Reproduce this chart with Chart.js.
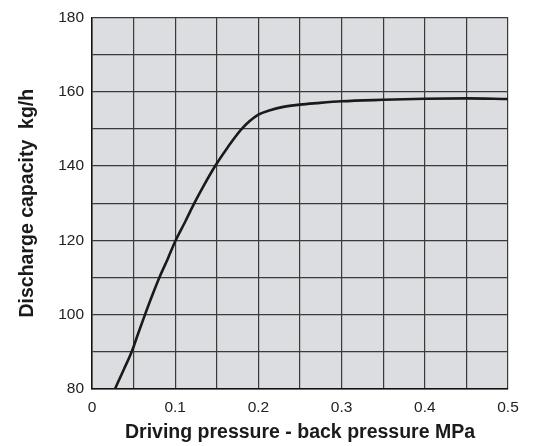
<!DOCTYPE html>
<html>
<head>
<meta charset="utf-8">
<script src="https://cdn.jsdelivr.net/npm/chart.js@4/dist/chart.umd.min.js"></script>
<style>
  html, body { margin: 0; padding: 0; background: #fff; }
  #wrap { width: 533px; height: 446px; }
</style>
</head>
<body>
<div id="wrap"><canvas id="dischargeChart"></canvas></div>
<script>
// curve
var pressure = [0.0276, 0.0377, 0.0477, 0.0556, 0.0637, 0.0721, 0.081, 0.091, 0.1006, 0.112, 0.123, 0.135, 0.148, 0.163, 0.18, 0.2, 0.214, 0.23, 0.25, 0.27, 0.3, 0.35, 0.4, 0.45, 0.5]
var capacity = [80, 85, 90, 95, 100, 105, 110, 115, 120, 125, 130, 135, 140, 145, 150, 153.8, 155.0, 155.9, 156.5, 156.9, 157.4, 157.8, 158.1, 158.2, 158.0]

// grid / tick positions
var xGrid = [0, 0.05, 0.1, 0.15, 0.2, 0.25, 0.3, 0.35, 0.4, 0.45, 0.5]
var xTickLabels = ['0', '', '0.1', '', '0.2', '', '0.3', '', '0.4', '', '0.5']
var yGrid = [80, 90, 100, 110, 120, 130, 140, 150, 160, 170, 180]
var yTickLabels = ['80', '', '100', '', '120', '', '140', '', '160', '', '180']

var xTitle = 'Driving pressure - back pressure MPa'
var yTitle = 'Discharge capacity  kg/h'

var FONT = "'Liberation Sans', Arial, Helvetica, sans-serif"

// gray plot background
var plotBg = {
       id: 'plotBg',
       beforeDraw: function (chart) {
              var a = chart.chartArea
              var ctx = chart.ctx
              ctx.save()
              ctx.fillStyle = '#dcdde0'
              ctx.fillRect(a.left, a.top, a.right - a.left, a.bottom - a.top)
              ctx.restore()
       }
}

var points = pressure.map(function (p, i) { return { x: p, y: capacity[i] } })

new Chart(document.getElementById('dischargeChart'), {
       type: 'line',
       data: {
              datasets: [{
                     data: points,
                     borderColor: '#1a1a1a',
                     borderWidth: 2.6,
                     pointRadius: 0,
                     fill: false,
                     cubicInterpolationMode: 'monotone'
              }]
       },
       options: {
              responsive: true,
              maintainAspectRatio: false,
              animation: false,
              layout: { padding: { top: 16, right: 25, left: 0, bottom: 0 } },
              plugins: {
                     legend: { display: false },
                     tooltip: { enabled: false }
              },
              scales: {
                     x: {
                            type: 'linear',
                            min: 0,
                            max: 0.5,
                            afterBuildTicks: function (scale) {
                                   scale.ticks = xGrid.map(function (v) { return { value: v } })
                            },
                            afterFit: function (scale) { scale.height = 57 },
                            ticks: {
                                   autoSkip: false,
                                   maxRotation: 0,
                                   padding: 9,
                                   color: '#222',
                                   font: { family: FONT, size: 15.5 },
                                   callback: function (v, i) { return xTickLabels[i] }
                            },
                            grid: { color: '#3a3a3a', lineWidth: 1.2, drawTicks: false },
                            border: { display: true, color: '#111', width: 1.5 },
                            title: {
                                   display: true,
                                   text: xTitle,
                                   color: '#1a1a1a',
                                   font: { family: FONT, size: 19.5, weight: 'bold' },
                                   padding: { top: 2, bottom: 2 }
                            }
                     },
                     y: {
                            type: 'linear',
                            min: 80,
                            max: 180,
                            afterBuildTicks: function (scale) {
                                   scale.ticks = yGrid.map(function (v) { return { value: v } })
                            },
                            afterFit: function (scale) { scale.width = 92 },
                            ticks: {
                                   autoSkip: false,
                                   padding: 8,
                                   color: '#222',
                                   font: { family: FONT, size: 15.5 },
                                   callback: function (v, i) { return yTickLabels[i] }
                            },
                            grid: { color: '#3a3a3a', lineWidth: 1.2, drawTicks: false },
                            border: { display: true, color: '#111', width: 1.5 },
                            title: {
                                   display: true,
                                   text: yTitle,
                                   color: '#1a1a1a',
                                   font: { family: FONT, size: 19.5, weight: 'bold' },
                                   padding: { top: 16, bottom: 0 }
                            }
                     }
              }
       },
       plugins: [plotBg]
});
</script>
</body>
</html>
